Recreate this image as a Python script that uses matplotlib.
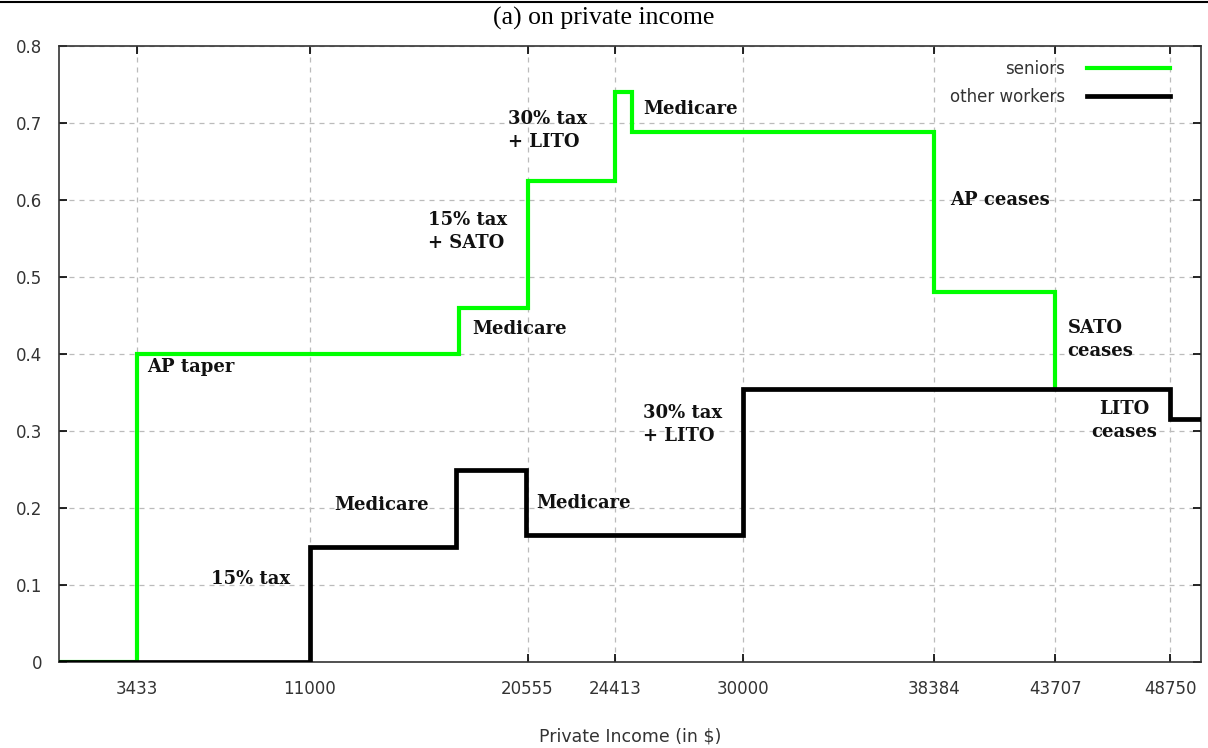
import matplotlib
matplotlib.use("Agg")
import matplotlib.pyplot as plt
from matplotlib.lines import Line2D

# ---- data ----
xticks = [3433, 11000, 20555, 24413, 30000, 38384, 43707, 48750]
seniors_x = [0, 3433, 17550, 20555, 24413, 25130, 38384, 43707, 43707]
seniors_y = [0, 0.40, 0.46, 0.625, 0.74, 0.688, 0.48, 0.355, 0.355]
workers_x = [0, 11000, 17400, 20500, 30000, 48750, 50200]
workers_y = [0, 0.15, 0.25, 0.165, 0.355, 0.315, 0.315]
yticks = [0, 0.1, 0.2, 0.3, 0.4, 0.5, 0.6, 0.7, 0.8]
ytick_labels = ["0", "0.1", "0.2", "0.3", "0.4", "0.5", "0.6", "0.7", "0.8"]

annotations = [
    ("AP taper", 3871, 0.383, "left"),
    ("15% tax", 6671, 0.108, "left"),
    ("Medicare", 12095, 0.204, "left"),
    ("Medicare", 20932, 0.207, "left"),
    ("Medicare", 18132, 0.432, "left"),
    ("15% tax\n+ SATO", 16207, 0.559, "left"),
    ("30% tax\n+ LITO", 19700, 0.690, "left"),
    ("Medicare", 25613, 0.718, "left"),
    ("AP ceases", 39086, 0.600, "left"),
    ("SATO\nceases", 44248, 0.419, "left"),
    ("30% tax\n+ LITO", 25613, 0.308, "left"),
    ("LITO\nceases", 46742, 0.314, "center"),
]

fig = plt.figure(figsize=(12.08, 7.48), dpi=100)
ax = fig.add_axes([59/1208, 1-662/748, (1201-59)/1208, (662-46)/748])

ax.step(seniors_x, seniors_y, where="post", color="#00ff00", lw=3.0,
        label="seniors", solid_joinstyle="miter", zorder=3)
ax.step(workers_x, workers_y, where="post", color="black", lw=3.4,
        label="other workers", solid_joinstyle="miter", zorder=4)

ax.set_xlim(0, 50100)
ax.set_ylim(0, 0.8)
ax.set_xticks(xticks)
ax.set_xticklabels([str(v) for v in xticks])
ax.set_yticks(yticks)
ax.set_yticklabels(ytick_labels)

ax.grid(True, color="#bbbbbb", linestyle=(0, (4, 4)), linewidth=0.9)
ax.set_axisbelow(True)
ax.tick_params(direction="in", top=True, right=True, length=6, width=1.2,
               labelsize=12, labelcolor="#333333")
ax.tick_params(axis="x", pad=13)
ax.tick_params(axis="y", pad=12)
for s in ax.spines.values():
    s.set_linewidth(1.2)
    s.set_color("#333333")

for txt, x, y, ha in annotations:
    ax.text(x, y, txt, ha=ha, va="center", family="DejaVu Serif",
            fontweight="bold", fontsize=13, color="#111111",
            linespacing=1.35, multialignment=ha, zorder=5)

ax.set_xlabel("Private Income (in $)", fontsize=12.5, color="#333333",
              labelpad=21)
fig.text(0.5, 1-18/748, "(a) on private income", ha="center", va="center",
         family="Liberation Serif", fontsize=18.5)
fig.add_artist(Line2D([0, 1], [1-1.5/748, 1-1.5/748], color="black", lw=1.5,
                      transform=fig.transFigure))

leg = ax.legend(loc="upper right", frameon=False, fontsize=12,
                markerfirst=False, handlelength=5.0, handletextpad=1.3,
                labelspacing=0.6, borderaxespad=0, borderpad=0,
                bbox_to_anchor=((1170-59)/1142, (662-60)/616))
for t in leg.get_texts():
    t.set_color("#333333")

fig.savefig("out.png", dpi=100)
